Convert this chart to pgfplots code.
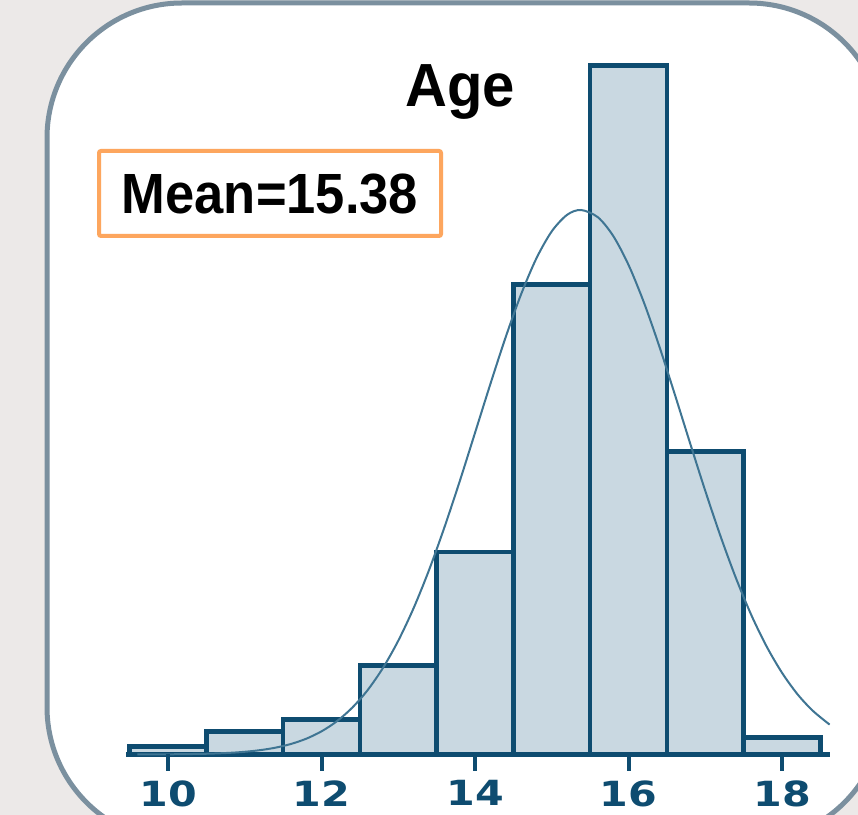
\documentclass[border=0pt]{standalone}
\usepackage{pgfplots}
\pgfplotsset{compat=1.18}
\usepackage{fontspec}
\setmainfont{Liberation Sans}
\newfontfamily\dejavu{DejaVu Sans}
\definecolor{bgc}{HTML}{ECE9E8}
\definecolor{cardc}{HTML}{7B909F}
\definecolor{barc}{HTML}{0E4C70}
\definecolor{barfill}{HTML}{C9D8E1}
\definecolor{curvec}{HTML}{3F7593}
\definecolor{orangec}{HTML}{FDA65E}
\newcommand{\tl}[1]{\scalebox{1.25}[1.05]{#1}}
\begin{document}
\begin{tikzpicture}
\useasboundingbox (0,0) rectangle (429pt,407.5pt);
\clip (0,0) rectangle (429pt,407.5pt);
\begin{scope}[x=0.5pt,y=0.5pt]
\fill[bgc] (0,0) rectangle (858,815);
\draw[cardc, line width=2.5pt, fill=white, rounded corners=67.5pt] (47,-27) rectangle (884,812);
\end{scope}
\begin{axis}[
  at={(63.25pt,30.25pt)}, anchor=south west,
  scale only axis, width=351.75pt, height=377.25pt,
  xmin=9.459, xmax=18.625, ymin=0, ymax=754.5,
  axis x line*=bottom, axis y line=none,
  x axis line style={-, line width=2.6pt, draw=barc},
  xtick={10,12,14,16,18},
  xticklabels={\tl{10},\tl{12},\tl{14},\tl{16},\tl{18}},
  xtick align=outside, major tick length=7.5pt,
  xticklabel style={font=\dejavu\bfseries\fontsize{16.5pt}{18pt}\selectfont, text=barc, yshift=-2pt},
  clip=false,
]
\addplot[ybar, bar width=1, fill=barfill, draw=barc, line width=2.3pt]
  coordinates {(10,8) (11,23) (12,35) (13,89) (14,202.5) (15,470) (16,689) (17,303) (18,17)};
\addplot[smooth, no marks, line width=1pt, color=curvec] coordinates {
(9.6,0.05) (10.0,0.18) (10.5,0.75) (10.8,1.65) (11.0,2.71) (11.2,4.35) (11.4,6.83) (11.6,10.49) (11.8,15.76)
(12.0,23.15) (12.2,33.27) (12.4,46.80) (12.6,64.31) (12.8,86.52) (13.0,113.8) (13.2,146.4) (13.4,184.3)
(13.6,226.9) (13.8,273.1) (14.0,321.7) (14.2,370.5) (14.4,417.5) (14.6,460.2) (14.8,496.2) (15.0,523.2)
(15.2,539.7) (15.38,544.5) (15.6,537.3) (15.8,518.6) (16.0,489.6) (16.2,452.1) (16.4,408.4) (16.6,360.8)
(16.8,311.8) (17.0,263.6) (17.2,218.0) (17.4,176.3) (17.6,139.4) (17.8,107.9) (18.0,81.7) (18.2,60.4)
(18.4,43.8) (18.62,29.9)};
\addplot[no marks, draw=barc, line width=2pt]
  coordinates {(10,0) (10,-17)

  (12,0) (12,-17)

  (14,0) (14,-17)

  (16,0) (16,-17)

  (18,0) (18,-17)};
\end{axis}
\begin{scope}[x=0.5pt,y=0.5pt]
\node[anchor=base, inner sep=0pt, font=\bfseries\fontsize{29pt}{32pt}\selectfont] at (460,708) {\scalebox{1}[1.05]{Age}};
\draw[orangec, line width=2pt, fill=white, rounded corners=1pt] (99,579) rectangle (441,664);
\node[anchor=base, inner sep=0pt, font=\bfseries\fontsize{26.25pt}{30pt}\selectfont] at (270,601) {\scalebox{1}[1.08]{Mean=15.38}};
\end{scope}
\end{tikzpicture}
\end{document}
